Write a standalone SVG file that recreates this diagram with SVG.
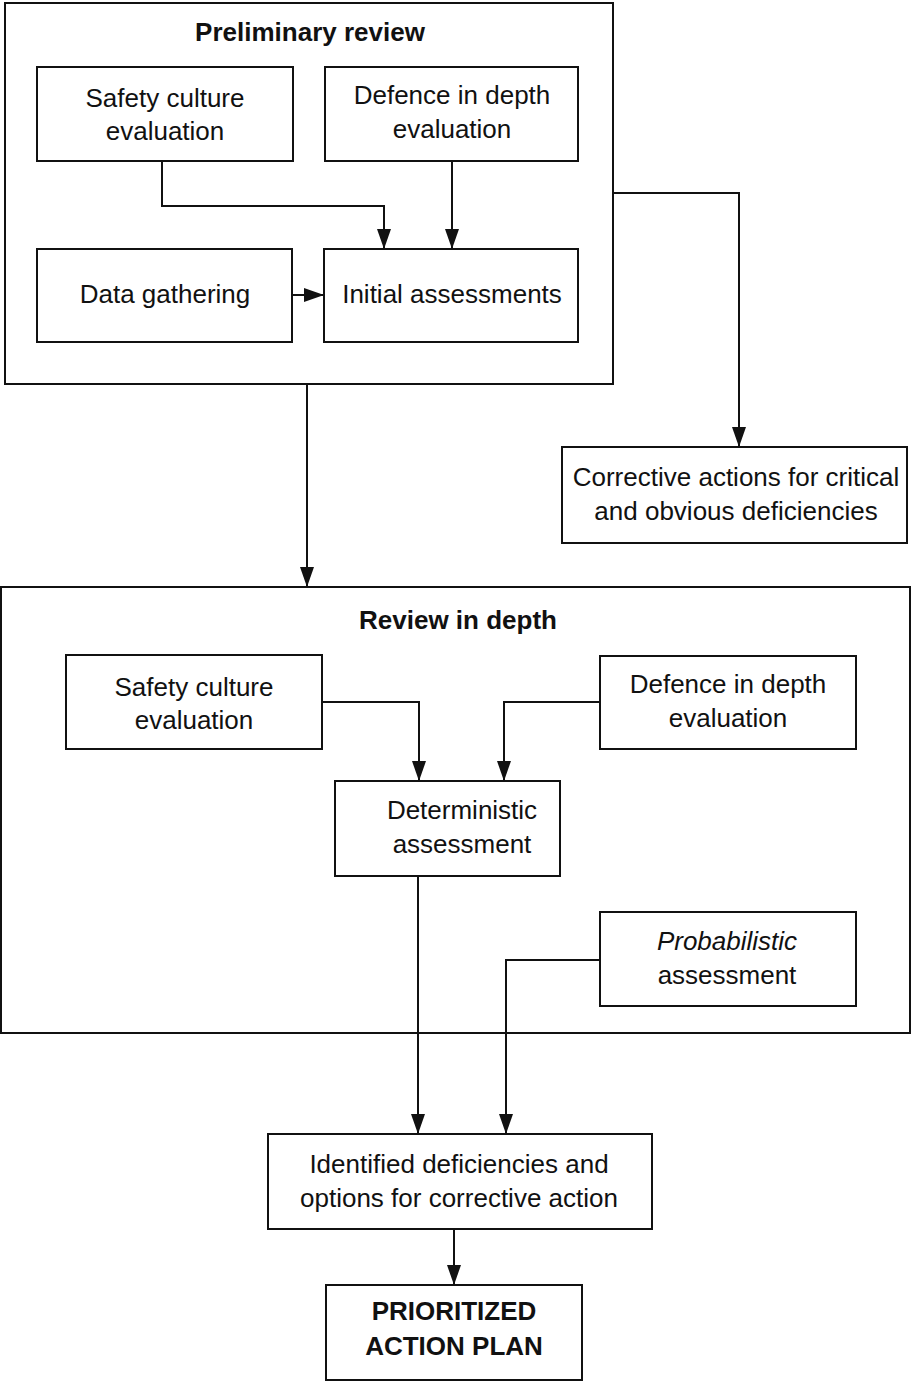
<svg xmlns="http://www.w3.org/2000/svg" width="912" height="1383" viewBox="0 0 912 1383">
<style>
.box{fill:#fff;stroke:#111;stroke-width:2}
.frame{fill:none;stroke:#111;stroke-width:2}
.t{font-family:"Liberation Sans",Arial,sans-serif;font-size:26px;fill:#111;text-anchor:middle}
.b{font-weight:bold}
.i{font-style:italic}
.c{fill:none;stroke:#111;stroke-width:2}
</style>
<defs>
<marker id="ah" markerUnits="userSpaceOnUse" markerWidth="20" markerHeight="14" refX="20" refY="7" viewBox="0 0 20 14" orient="auto">
<path d="M0,0 L20,7 L0,14 Z" fill="#111"/>
</marker>
</defs>
<rect width="912" height="1383" fill="#fff"/>
<g id="preliminary-review">
<rect class="frame" x="5" y="3" width="608" height="381"/>
<text class="t b" x="310" y="41">Preliminary review</text>
</g>
<g id="review-in-depth">
<rect class="frame" x="1" y="587" width="909" height="446"/>
<text class="t b" x="458" y="629">Review in depth</text>
</g>
<g id="connectors">
<polyline class="c" points="162,161 162,206 384,206 384,249" marker-end="url(#ah)"/>
<line class="c" x1="452" y1="161" x2="452" y2="249" marker-end="url(#ah)"/>
<line class="c" x1="292" y1="295" x2="324" y2="295" marker-end="url(#ah)"/>
<polyline class="c" points="613,193 739,193 739,447" marker-end="url(#ah)"/>
<line class="c" x1="307" y1="384" x2="307" y2="587" marker-end="url(#ah)"/>
<polyline class="c" points="322,702 419,702 419,781" marker-end="url(#ah)"/>
<polyline class="c" points="600,702 504,702 504,781" marker-end="url(#ah)"/>
<line class="c" x1="418" y1="876" x2="418" y2="1134" marker-end="url(#ah)"/>
<polyline class="c" points="600,960 506,960 506,1134" marker-end="url(#ah)"/>
<line class="c" x1="454" y1="1229" x2="454" y2="1285" marker-end="url(#ah)"/>
</g>
<g id="safety-culture-1">
<rect class="box" x="37" y="67" width="256" height="94"/>
<text class="t" x="165" y="107">Safety culture</text>
<text class="t" x="165" y="140">evaluation</text>
</g>
<g id="defence-1">
<rect class="box" x="325" y="67" width="253" height="94"/>
<text class="t" x="452" y="104">Defence in depth</text>
<text class="t" x="452" y="138">evaluation</text>
</g>
<g id="data-gathering">
<rect class="box" x="37" y="249" width="255" height="93"/>
<text class="t" x="165" y="303">Data gathering</text>
</g>
<g id="initial-assessments">
<rect class="box" x="324" y="249" width="254" height="93"/>
<text class="t" x="452" y="303">Initial assessments</text>
</g>
<g id="corrective-actions">
<rect class="box" x="562" y="447" width="345" height="96"/>
<text class="t" x="736" y="486">Corrective actions for critical</text>
<text class="t" x="736" y="520">and obvious deficiencies</text>
</g>
<g id="safety-culture-2">
<rect class="box" x="66" y="655" width="256" height="94"/>
<text class="t" x="194" y="696">Safety culture</text>
<text class="t" x="194" y="729">evaluation</text>
</g>
<g id="defence-2">
<rect class="box" x="600" y="656" width="256" height="93"/>
<text class="t" x="728" y="693">Defence in depth</text>
<text class="t" x="728" y="727">evaluation</text>
</g>
<g id="deterministic">
<rect class="box" x="335" y="781" width="225" height="95"/>
<text class="t" x="462" y="819">Deterministic</text>
<text class="t" x="462" y="853">assessment</text>
</g>
<g id="probabilistic">
<rect class="box" x="600" y="912" width="256" height="94"/>
<text class="t i" x="727" y="950">Probabilistic</text>
<text class="t" x="727" y="984">assessment</text>
</g>
<g id="identified-deficiencies">
<rect class="box" x="268" y="1134" width="384" height="95"/>
<text class="t" x="459" y="1173">Identified deficiencies and</text>
<text class="t" x="459" y="1207">options for corrective action</text>
</g>
<g id="prioritized-action-plan">
<rect class="box" x="326" y="1285" width="256" height="95"/>
<text class="t b" x="454" y="1320">PRIORITIZED</text>
<text class="t b" x="454" y="1355">ACTION PLAN</text>
</g>
</svg>
